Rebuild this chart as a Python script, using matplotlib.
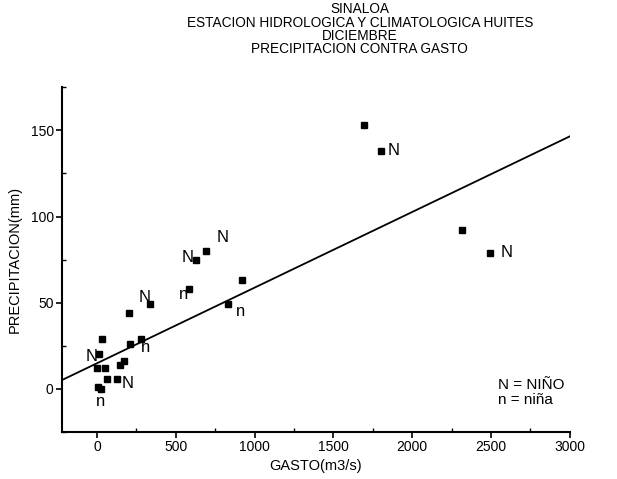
import numpy as np
import matplotlib.pyplot as plt
from matplotlib.ticker import MultipleLocator

plt.rcParams['font.family'] = ['Liberation Sans', 'DejaVu Sans']

# gasto (m3/s) y precipitacion (mm), diciembre
gasto = [1694, 1801, 2315, 2493, 692, 628, 920, 583, 831, 336, 203,
         31, 209, 279, 13, 3, 51, 146, 171, 63, 127, 6, 25]
precip = [153, 138, 92, 79, 80, 75, 63, 58, 49, 49, 44,
          29, 26, 29, 20, 12, 12, 14, 16, 6, 6, 1, 0]

# etiquetas N (nino) / n (nina) y su posicion
etiq = ['N', 'N', 'N', 'N', 'n', 'n', 'N', 'n', 'N', 'N', 'n']
etiq_x = [1883, 2600, 799, 577, 552, 913, 305, 311, -31, 196, 25]
etiq_y = [138, 79, 88, 76, 55, 45, 53, 24, 19, 3, -7]

# recta de regresion
b0 = 14.9
b1 = 0.04386

titulo = ['SINALOA', 'ESTACION HIDROLOGICA Y CLIMATOLOGICA HUITES',
          'DICIEMBRE', 'PRECIPITACION CONTRA GASTO']
titulo_y = [0.981, 0.953, 0.925, 0.897]

fig = plt.figure(figsize=(6.17, 4.79), dpi=100)
ax = fig.add_axes([0.1005, 0.098, 0.823, 0.72])

ax.plot(gasto, precip, 's', color='black', ms=4.3)
xr = np.array([-222, 3000])
ax.plot(xr, b0 + b1 * xr, color='black', lw=1.3)

for t, x, y in zip(etiq, etiq_x, etiq_y):
    ax.text(x, y, t, fontsize=12, ha='center', va='center')

ax.set_xlim(-222, 3000)
ax.set_ylim(-25, 175)
ax.xaxis.set_major_locator(MultipleLocator(500))
ax.xaxis.set_minor_locator(MultipleLocator(250))
ax.yaxis.set_major_locator(MultipleLocator(50))
ax.yaxis.set_minor_locator(MultipleLocator(25))
ax.spines['top'].set_visible(False)
ax.spines['right'].set_visible(False)
ax.spines['left'].set_linewidth(1.5)
ax.spines['bottom'].set_linewidth(1.5)
ax.tick_params(which='major', direction='out', length=4, width=1.2, labelsize=10, pad=2)
ax.tick_params(which='minor', direction='in', length=3, width=1)
ax.set_yticks([0, 50, 100, 150])
ax.set_xlabel('GASTO(m3/s)', fontsize=10.5, labelpad=3)
ax.set_ylabel('PRECIPITACION(mm)', fontsize=10.5, labelpad=6)

for t, y in zip(titulo, titulo_y):
    fig.text(0.583, y, t, ha='center', va='center', fontsize=9.8)

fig.text(0.807, 0.196, 'N = NIÑO', fontsize=11, va='center')
fig.text(0.807, 0.165, 'n = niña', fontsize=11, va='center')

plt.savefig('out.png', dpi=100)
